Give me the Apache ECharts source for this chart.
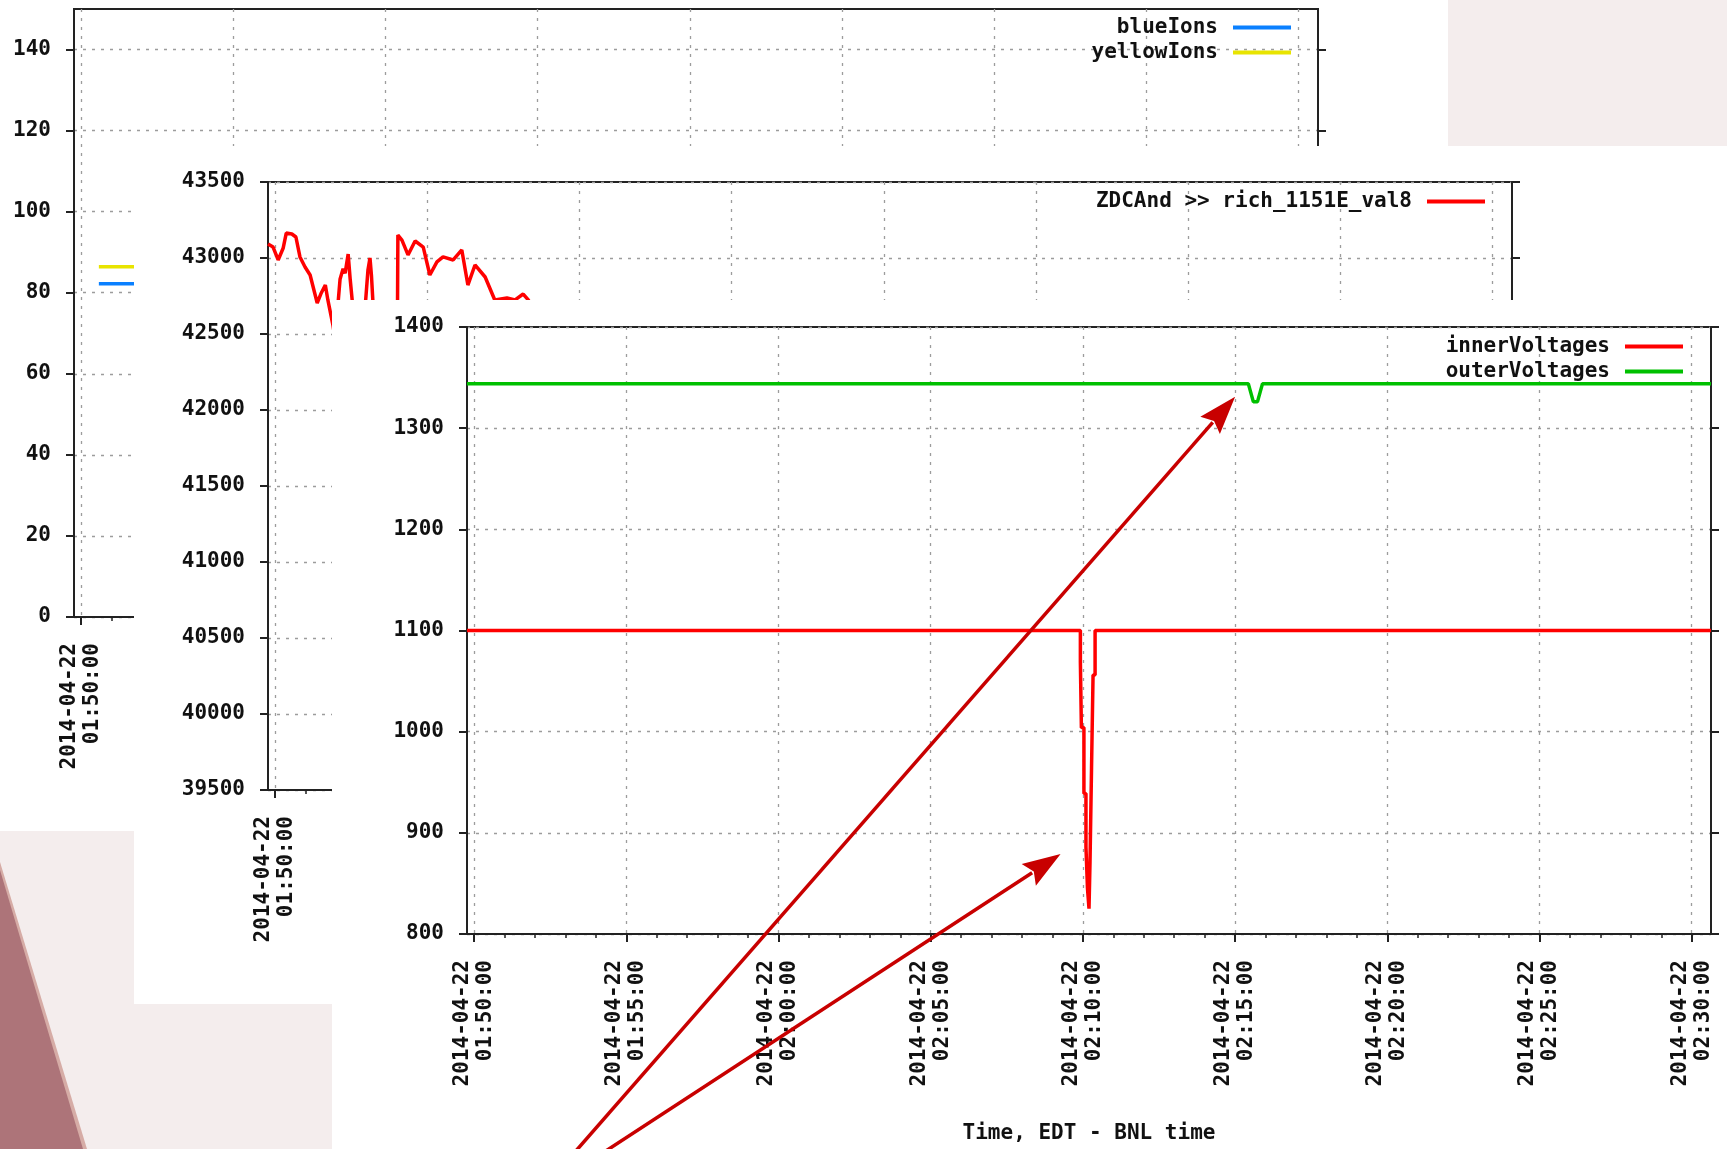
<!DOCTYPE html>
<html>
<head>
<meta charset="utf-8">
<script src="https://cdn.jsdelivr.net/npm/echarts@6/dist/echarts.min.js"></script>
<style>
  html, body { margin: 0; padding: 0; width: 1727px; height: 1149px; overflow: hidden; background: #f4eded; }
  .shot { position: absolute; background: #ffffff; overflow: hidden; }
  #band1 { position: absolute; left: 0; top: 0; width: 1727px; height: 1149px; background: #d6aca6;
           clip-path: polygon(0 862px, 87px 1149px, 0 1149px); }
  #band2 { position: absolute; left: 0; top: 0; width: 1727px; height: 1149px; background: #ad7479;
           clip-path: polygon(0 870px, 83px 1149px, 0 1149px); }
</style>
</head>
<body>
<div id="band1"></div>
<div id="band2"></div>
<div id="shotA" class="shot" style="left:0px;top:0px;width:1448px;height:831px;z-index:1"></div>
<div id="shotB" class="shot" style="left:134px;top:146px;width:1593px;height:858px;z-index:2"></div>
<div id="shotC" class="shot" style="left:332px;top:300px;width:1395px;height:849px;z-index:3"></div>
<script>
// ---------------- data ----------------
const dateLabel = '2014-04-22';
const timeStart = '01:49:46';
const timeEnd = '02:30:38';
const timeTicks = ['01:50:00','01:55:00','02:00:00','02:05:00','02:10:00','02:15:00','02:20:00','02:25:00','02:30:00'];

// chart 1 : ions
const ionTicks = [0, 20, 40, 60, 80, 100, 120, 140];
const ionTimes = ['01:50:35', '02:30:38'];
const blueIons = [82.2, 82.2];
const yellowIons = [86.4, 86.4];

// chart 2 : ZDCAnd >> rich_1151E_val8
const zdcTicks = [39500, 40000, 40500, 41000, 41500, 42000, 42500, 43000, 43500];
const zdcTimes = ['01:49:46','01:49:56','01:50:06','01:50:16','01:50:22','01:50:33','01:50:41','01:50:49','01:50:59','01:51:09',
  '01:51:23','01:51:31','01:51:39','01:51:44','01:51:54','01:51:58','01:52:02','01:52:08','01:52:14','01:52:18',
  '01:52:24','01:52:28','01:52:34','01:52:42','01:52:50','01:52:58','01:53:03','01:53:07','01:53:10','01:53:14',
  '01:53:24','01:53:36','01:53:48','01:54:01','01:54:02','01:54:10','01:54:22','01:54:36','01:54:52','01:55:05',
  '01:55:19','01:55:31','01:55:51','01:56:08','01:56:20','01:56:34','01:56:54','01:57:13','01:57:37','01:57:53',
  '01:58:09','01:58:19','01:58:40','01:59:30','02:01:00','02:03:00','02:05:00','02:07:00','02:09:00','02:11:00',
  '02:13:00','02:15:00','02:17:00','02:19:00','02:21:00','02:23:00','02:25:00','02:27:00','02:29:00','02:30:38'];
const zdcValues = [43092,43072,42987,43066,43164,43158,43138,43007,42941,42888,
  42704,42770,42822,42724,42559,42470,42620,42860,42930,42900,
  43026,42860,42650,42480,42520,42700,42920,43000,42880,42640,
  42470,42540,42430,42500,43151,43118,43020,43112,43072,42888,
  42974,43007,42987,43053,42822,42954,42875,42724,42737,42724,
  42763,42724,42600,42520,42450,42380,42420,42300,42350,42250,
  42320,42200,42280,42240,42300,42180,42260,42220,42300,42250];

// chart 3 : voltages
const voltTicks = [800, 900, 1000, 1100, 1200, 1300, 1400];
const innerTimes = ['01:49:46','02:09:55','02:09:55','02:09:57','02:09:57','02:10:02','02:10:02','02:10:06','02:10:06','02:10:09',
  '02:10:09','02:10:12','02:10:12','02:10:14','02:10:14','02:10:17','02:10:17','02:10:20','02:10:20','02:10:24','02:10:24','02:30:38'];
const innerValues = [1100,1100,1069,1069,1004,1004,939,939,886,886,845,845,825,825,871,871,964,964,1056,1056,1100,1100];
const outerTimes = ['01:49:46','02:15:26','02:15:36','02:15:44','02:15:54','02:30:38'];
const outerValues = [1344,1344,1326,1326,1344,1344];

// annotation arrows: data point each arrow points at
const arrowTargets = [['02:15:00', 1331], ['02:09:16', 879]];

// ---------------- helpers ----------------
const FONT = '"DejaVu Sans Mono", "Liberation Mono", monospace';
function sec(s) { const p = s.split(':').map(Number); return p[0] * 3600 + p[1] * 60 + p[2]; }
function pad(n) { return (n < 10 ? '0' : '') + n; }
function hms(v) { v = Math.round(v); return pad(Math.floor(v / 3600)) + ':' + pad(Math.floor(v % 3600 / 60)) + ':' + pad(v % 60); }
function pairs(times, vals) { return times.map((t, i) => [sec(t), vals[i]]); }

const T0 = sec(timeStart), T1 = sec(timeEnd);
const majors = timeTicks.map(sec);
const minors = [];
for (let v = majors[0]; v <= majors[majors.length - 1]; v += 60) minors.push(v);

const axisCol = '#222';
const txt = { fontFamily: FONT, fontWeight: 'bold', fontSize: 21, color: '#111' };
const gridLine = { show: true, lineStyle: { color: '#9c9c9c', width: 1.3, type: [3, 6] } };

function build(el, o) {
  const chart = echarts.init(el, null, { renderer: 'canvas' });
  const yMin = o.yTicks[0];
  const option = {
    animation: false,
    backgroundColor: 'transparent',
    grid: { left: o.left, top: o.top, width: o.width, height: o.height, show: true,
            borderColor: axisCol, borderWidth: 2, backgroundColor: 'transparent',
            containLabel: false, outerBoundsMode: 'none' },
    legend: {
      orient: 'vertical', align: 'right', right: o.legendRight, top: o.legendTop, padding: 0,
      itemGap: 2, icon: 'rect', itemWidth: 58, itemHeight: 4,
      textStyle: Object.assign({ lineHeight: 23, padding: [0, 10, 0, 0] }, txt),
      data: o.series.map(s => s.name)
    },
    xAxis: [
      { type: 'value', position: 'bottom', min: T0, max: T1,
        axisLine: { show: true, onZero: false, lineStyle: { color: axisCol, width: 2 } },
        axisTick: { show: true, inside: false, length: 8, customValues: majors, lineStyle: { color: axisCol, width: 2 } },
        axisLabel: Object.assign({ show: true, customValues: majors, rotate: 90, margin: 26, lineHeight: 23,
          formatter: v => dateLabel + '\n' + hms(v) }, txt),
        splitLine: gridLine,
        name: o.xName || '', nameLocation: 'middle', nameGap: o.nameGap || 0, nameMoveOverlap: false,
        nameTextStyle: txt },
      { type: 'value', position: 'bottom', min: T0, max: T1,
        axisLine: { show: false },
        axisTick: { show: true, inside: false, length: 4, customValues: minors, lineStyle: { color: axisCol, width: 1.5 } },
        axisLabel: { show: false }, splitLine: { show: false } }
    ],
    yAxis: [
      { type: 'value', position: 'left', min: yMin, max: o.yMax, interval: o.yTicks[1] - o.yTicks[0],
        axisLine: { show: true, onZero: false, lineStyle: { color: axisCol, width: 2 } },
        axisTick: { show: true, length: 8, customValues: o.yTicks, lineStyle: { color: axisCol, width: 2 } },
        axisLabel: Object.assign({ margin: 23, customValues: o.yTicks, formatter: v => String(v) }, txt),
        splitLine: gridLine },
      { type: 'value', position: 'right', min: yMin, max: o.yMax, interval: o.yTicks[1] - o.yTicks[0],
        axisLine: { show: true, onZero: false, lineStyle: { color: axisCol, width: 2 } },
        axisTick: { show: true, length: 8, customValues: o.yTicks, lineStyle: { color: axisCol, width: 2 } },
        axisLabel: { show: false }, splitLine: { show: false } }
    ],
    series: o.series.map(s => ({
      type: 'line', name: s.name, xAxisIndex: 0, yAxisIndex: 0, data: s.data,
      showSymbol: false, symbol: 'none', smooth: false, color: s.color,
      lineStyle: { color: s.color, width: 3.5 }, emphasis: { disabled: true }
    }))
  };
  chart.setOption(option);
  return chart;
}

// chart 1 (back)
build(document.getElementById('shotA'), {
  left: 74, top: 9, width: 1244, height: 608, yTicks: ionTicks, yMax: 150,
  legendRight: 157, legendTop: 16,
  series: [
    { name: 'blueIons', color: '#0a80ff', data: pairs(ionTimes, blueIons) },
    { name: 'yellowIons', color: '#e8e400', data: pairs(ionTimes, yellowIons) }
  ]
});

// chart 2 (middle)
build(document.getElementById('shotB'), {
  left: 134, top: 36, width: 1244, height: 608, yTicks: zdcTicks, yMax: 43500,
  legendRight: 242, legendTop: 44,
  series: [
    { name: 'ZDCAnd >> rich_1151E_val8', color: '#ff0000', data: pairs(zdcTimes, zdcValues) }
  ]
});

// chart 3 (front)
const chartC = build(document.getElementById('shotC'), {
  left: 135, top: 27, width: 1244, height: 607, yTicks: voltTicks, yMax: 1400,
  legendRight: 44, legendTop: 35, xName: 'Time, EDT - BNL time', nameGap: 189,
  series: [
    { name: 'innerVoltages', color: '#ff0000', data: pairs(innerTimes, innerValues) },
    { name: 'outerVoltages', color: '#00c000', data: pairs(outerTimes, outerValues) }
  ]
});

// arrows pointing at the two dips
const arrowTails = [[236, 860], [260, 860]];
const arrowEls = [];
arrowTargets.forEach((tg, i) => {
  const tip = chartC.convertToPixel({ xAxisIndex: 0, yAxisIndex: 0 }, [sec(tg[0]), tg[1]]);
  const tail = arrowTails[i];
  const dx = tip[0] - tail[0], dy = tip[1] - tail[1];
  const len = Math.sqrt(dx * dx + dy * dy);
  const ux = dx / len, uy = dy / len, nx = -uy, ny = ux;
  const L = 38, W = 13;
  const bx = tip[0] - ux * L, by = tip[1] - uy * L;
  arrowEls.push({ type: 'line', z: 100, silent: true,
    shape: { x1: tail[0], y1: tail[1], x2: bx + ux * 4, y2: by + uy * 4 },
    style: { stroke: '#c80000', lineWidth: 3.5 } });
  arrowEls.push({ type: 'polygon', z: 101, silent: true,
    shape: { points: [[tip[0], tip[1]], [bx + nx * W, by + ny * W], [bx + ux * 6, by + uy * 6], [bx - nx * W, by - ny * W]] },
    style: { fill: '#c80000' } });
});
chartC.setOption({ graphic: arrowEls });
</script>
</body>
</html>
